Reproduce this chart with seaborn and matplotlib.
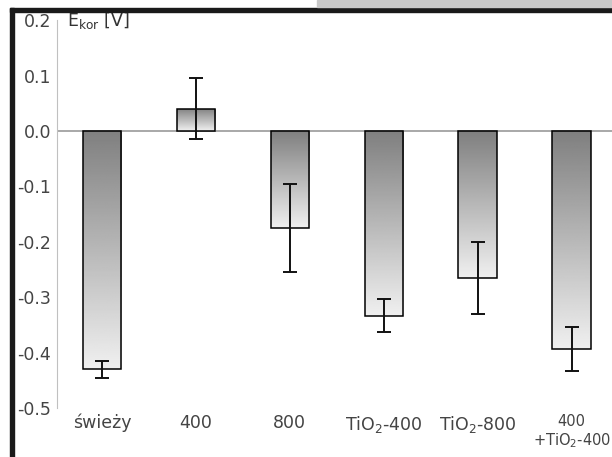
import numpy as np
import pandas as pd
import matplotlib
matplotlib.use("Agg")
import matplotlib.pyplot as plt
from matplotlib.patches import Rectangle
import seaborn as sns

samples = ["świeży", "400", "800", "TiO$_2$-400", "TiO$_2$-800", "400\n+TiO$_2$-400"]
potential = [-0.43, 0.04, -0.175, -0.333, -0.265, -0.393]
spread = [0.015, 0.055, 0.08, 0.03, 0.065, 0.04]
yticks = [0.2, 0.1, 0.0, -0.1, -0.2, -0.3, -0.4, -0.5]

sns.set_style("white")
plt.rcParams['font.family'] = ['DejaVu Sans']

df = pd.DataFrame({"sample": samples, "E": potential})

fig = plt.figure(figsize=(6.12, 4.57), dpi=100)
ax = fig.add_axes([0.093, 0.107, 0.907, 0.849])

sns.barplot(data=df, x="sample", y="E", ax=ax, width=0.41,
            edgecolor="black", linewidth=1.1, facecolor="none", errorbar=None)

# gradient fill inside each bar, dark at the top
grad = np.linspace(0.50, 0.94, 256).reshape(-1, 1)
for p in ax.patches:
    x0, y0 = p.get_x(), p.get_y()
    w, h = p.get_width(), p.get_height()
    ylo, yhi = min(y0, y0 + h), max(y0, y0 + h)
    im = ax.imshow(grad, cmap="gray", vmin=0, vmax=1, aspect="auto", origin="upper",
                   extent=(x0, x0 + w, ylo, yhi), zorder=1, interpolation="bilinear")
    im.set_clip_path(p)
    p.set_zorder(2)

ax.errorbar(range(len(samples)), potential, yerr=spread, fmt="none",
            ecolor="#111111", elinewidth=1.4, capsize=5, capthick=1.4, zorder=3)

ax.axhline(0, color="#9a9a9a", lw=1.2, zorder=0.5)
ax.set_ylim(-0.5, 0.2)
ax.set_xlim(-0.48, 5.43)
ax.set_yticks(yticks)
ax.set_yticklabels(["%.1f" % t for t in yticks])
ax.set_xlabel("")
ax.set_ylabel("")
for s in ["top", "right", "bottom"]:
    ax.spines[s].set_visible(False)
ax.spines["left"].set_color("#c0c0c0")
ax.tick_params(axis="y", length=3, color="#888888", labelsize=12.5, labelcolor="#444444", pad=1)
ax.tick_params(axis="x", length=0, labelsize=12.5, labelcolor="#444444", pad=4)
# last label runs into the right edge; keep it readable
ax.get_xticklabels()[-1].set_fontsize(10.5)
ax.text(0.018, 1.0, "E$_{\\mathrm{kor}}$ [V]", transform=ax.transAxes,
        fontsize=12.5, color="#333333", va="center", ha="left")

# scan frame: black border left and top, gray strip above
fig.add_artist(Rectangle((10 / 612, 0), 4 / 612, 449 / 457, transform=fig.transFigure,
                         color="#1a1a1a", zorder=10))
fig.add_artist(Rectangle((10 / 612, 445 / 457), 1, 4 / 457, transform=fig.transFigure,
                         color="#1a1a1a", zorder=10))
fig.add_artist(Rectangle((317 / 612, 450 / 457), 1, 7 / 457, transform=fig.transFigure,
                         color="#c8c8c8", zorder=10))
fig.add_artist(Rectangle((0, 0), 10 / 612, 1, transform=fig.transFigure,
                         color="white", zorder=9))

fig.savefig("out.png", dpi=100)
